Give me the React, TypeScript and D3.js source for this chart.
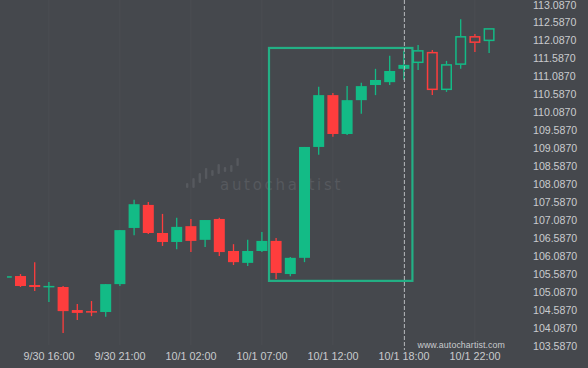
import React from "react";
import * as d3 from "d3";

const opens = [105.51, 105.545, 105.295, 105.24, 105.24, 104.6, 104.57, 104.545, 105.32, 106.88, 107.52, 106.74, 106.49, 106.93, 106.55, 107.13, 106.24, 105.91, 106.24, 106.52, 105.6, 106.05, 109.13, 110.57, 109.49, 110.43, 110.85, 110.93, 111.3, 111.46, 111.77, 110.71, 111.41, 112.21, 112.07];
const highs = [105.55, 105.6, 105.93, 105.38, 105.27, 104.77, 104.85, 105.32, 106.82, 107.66, 107.6, 107.27, 107.16, 107.13, 107.1, 107.16, 106.43, 106.55, 106.77, 106.6, 106.07, 109.13, 110.8, 110.63, 110.82, 110.91, 111.3, 111.66, 111.8, 111.96, 111.82, 111.52, 112.68, 112.27, 112.43];
const lows = [105.49, 105.24, 105.13, 104.82, 103.96, 104.32, 104.43, 104.41, 105.27, 106.68, 106.71, 106.38, 106.29, 106.21, 106.35, 106.1, 105.85, 105.82, 106.21, 105.46, 105.54, 105.93, 108.91, 109.41, 109.46, 110.05, 110.57, 110.85, 110.99, 111.27, 110.57, 110.66, 111.3, 111.77, 111.74];
const closes = [105.54, 105.267, 105.24, 105.27, 104.57, 104.52, 104.55, 105.32, 106.82, 107.54, 106.74, 106.49, 106.91, 106.52, 107.1, 106.21, 105.93, 106.24, 106.52, 105.63, 106.05, 109.13, 110.57, 109.49, 110.43, 110.82, 110.99, 111.24, 111.41, 111.82, 110.71, 111.43, 112.21, 112.02, 112.43];

const lastActual = 28; // candles after this are drawn hollow
const xTickIndex = [3, 8, 13, 18, 23, 28, 33];
const xTickLabels = ["9/30 16:00", "9/30 21:00", "10/1 02:00", "10/1 07:00", "10/1 12:00", "10/1 18:00", "10/1 22:00"];
const yTicks = [113.087, 112.587, 112.087, 111.587, 111.087, 110.587, 110.087, 109.587, 109.087, 108.587, 108.087, 107.587, 107.087, 106.587, 106.087, 105.587, 105.087, 104.587, 104.087, 103.587];
const patternStart = 18.5;
const patternEnd = 28.6;
const patternHigh = 111.88;
const patternLow = 105.41;
// watermark logo bars: [top, bottom] offsets in px
const watermarkBars = [[183, 188], [178, 188], [173, 183], [168, 179], [170, 176], [164, 174], [167, 172], [165, 172], [158, 166]];

const W = 588;
const H = 368;
const BG = "#45484d";
const GREEN = "#13bb86";
const RED = "#fe3d3d";
const TEXT = "#c9cbcd";
const WM = "#56595e";
const FONT = "'Liberation Sans', Arial, sans-serif";

export default function App() {
  const x = d3.scaleLinear().domain([0, 34]).range([6.3, 489.1]);
  const y = d3.scaleLinear().domain([103.587, 113.087]).range([346.5, 4.5]);
  const bw = 11;
  const candles = opens.map((o, i) => ({ o, h: highs[i], l: lows[i], c: closes[i], i }));

  return (
    <svg width={W} height={H} style={{ position: "absolute", left: 0, top: 0, display: "block" }}>
      <defs>
        <clipPath id="plot">
          <rect x={7} y={0} width={520} height={352} />
        </clipPath>
      </defs>
      <rect x={0} y={0} width={W} height={H} fill={BG} />
      {xTickIndex.map((t) => (
        <line key={t} x1={x(t)} x2={x(t)} y1={0} y2={345} stroke="#4a4e53" strokeWidth={1} />
      ))}
      {/* watermark */}
      <g fill={WM}>
        {watermarkBars.map((b, k) => (
          <rect key={k} x={186 + k * 6.3} y={b[0]} width={2.4} height={b[1] - b[0]} rx={1} />
        ))}
        <text x={220} y={189.5} fontFamily="'DejaVu Sans', sans-serif" fontSize={15} letterSpacing={2.7} fill={WM}>
          autochartist
        </text>
      </g>
      <g clipPath="url(#plot)">
        {candles.map((d) => {
          const cx = x(d.i);
          const up = d.c >= d.o;
          const col = up ? GREEN : RED;
          const yTop = y(Math.max(d.o, d.c));
          const yBot = y(Math.min(d.o, d.c));
          const bh = Math.max(yBot - yTop, 1.5);
          if (d.i <= lastActual) {
            return (
              <g key={d.i}>
                <line x1={cx} x2={cx} y1={y(d.h)} y2={y(d.l)} stroke={col} strokeWidth={1.3} />
                <rect x={cx - bw / 2} y={yTop} width={bw} height={bh} fill={col} />
              </g>
            );
          }
          return (
            <g key={d.i}>
              <line x1={cx} x2={cx} y1={y(d.h)} y2={yTop} stroke={col} strokeWidth={1.3} />
              <line x1={cx} x2={cx} y1={yTop + bh} y2={y(d.l)} stroke={col} strokeWidth={1.3} />
              <rect x={cx - bw / 2 + 0.75} y={yTop + 0.75} width={bw - 1.5} height={Math.max(bh - 1.5, 0.5)} fill="none" stroke={col} strokeWidth={1.5} />
            </g>
          );
        })}
      </g>
      {/* pattern rectangle */}
      <rect
        x={x(patternStart)}
        y={y(patternHigh)}
        width={x(patternEnd) - x(patternStart)}
        height={y(patternLow) - y(patternHigh)}
        fill="none"
        stroke="#1fbb8c"
        strokeOpacity={0.9}
        strokeWidth={2.2}
      />
      {/* current time line */}
      <line x1={x(lastActual) + 0.5} x2={x(lastActual) + 0.5} y1={0} y2={350} stroke="#b5b7ba" strokeWidth={1} strokeDasharray="4,2" />
      {/* y axis labels */}
      {yTicks.map((v) => (
        <text key={v} x={533} y={Math.max(y(v), 5.5)} dy="0.35em" fontFamily={FONT} fontSize={10.6} fill={TEXT}>
          {v.toFixed(4)}
        </text>
      ))}
      {/* x axis labels */}
      {xTickIndex.map((t, k) => (
        <text key={t} x={x(t)} y={356} dy="0.35em" textAnchor="middle" fontFamily={FONT} fontSize={10.8} fill={TEXT}>
          {xTickLabels[k]}
        </text>
      ))}
      <text x={505} y={345} dy="0.35em" textAnchor="end" fontFamily={FONT} fontSize={8.8} letterSpacing={0.1} fill={TEXT}>
        www.autochartist.com
      </text>
    </svg>
  );
}
